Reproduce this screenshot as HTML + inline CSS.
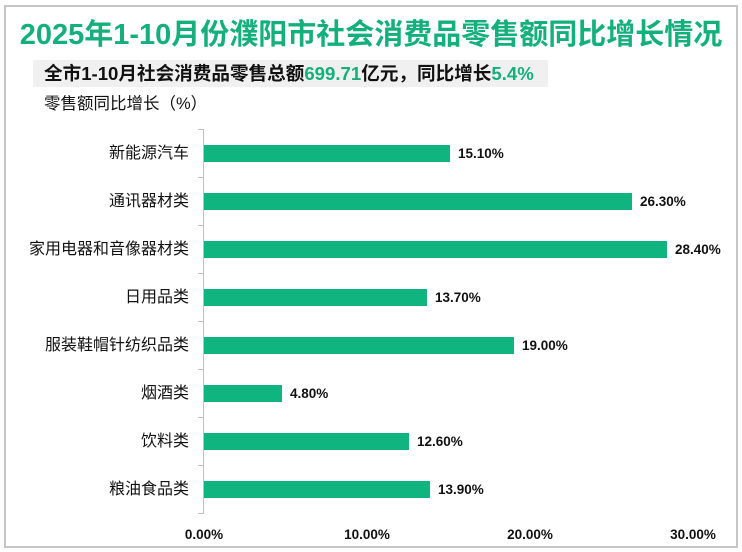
<!DOCTYPE html>
<html>
<head>
<meta charset="utf-8">
<style>
  html,body{margin:0;padding:0;background:#fff;}
  body{width:742px;height:552px;position:relative;overflow:hidden;
       font-family:"Liberation Sans","Noto Sans CJK SC",sans-serif;}
  .frame{position:absolute;left:4px;top:5px;width:734px;height:543px;box-sizing:border-box;
         border:2px solid #c6c6c6;}
  .abs{position:absolute;white-space:nowrap;}
  .title{left:0;width:742px;text-align:center;top:15px;height:40px;line-height:40px;
         font-size:29px;font-weight:bold;color:#14b07c;}
  .subbox{left:33px;top:60px;width:515px;height:27px;background:#f0f0f0;}
  .sub{left:44px;top:60px;height:27px;line-height:27px;font-size:18.6px;font-weight:bold;color:#111;}
  .g{color:#14b07c;}
  .unit{left:44px;top:93px;height:22px;line-height:22px;font-size:16.5px;color:#111;}
  .cat{right:553px;height:24px;line-height:24px;font-size:16px;color:#111;text-align:right;}
  .bar{left:204px;height:17px;background:#10b47f;}
  .val{height:20px;line-height:20px;font-size:13.5px;font-weight:bold;color:#111;}
  .tick{top:525px;height:20px;line-height:20px;width:80px;text-align:center;font-size:13.5px;font-weight:bold;color:#111;}
  .axis{left:203px;top:129px;width:1px;height:385px;background:#bfbfbf;}
  .tm{left:198px;width:6px;height:1px;background:#bfbfbf;}
</style>
</head>
<body>
<div class="frame"></div>

<div class="abs title">2025年1-10月份濮阳市社会消费品零售额同比增长情况</div>

<div class="abs subbox"></div>
<div class="abs sub">全市1-10月社会消费品零售总额<span class="g">699.71</span>亿元，同比增长<span class="g">5.4%</span></div>

<div class="abs unit">零售额同比增长（%）</div>

<!-- axis -->
<div class="abs axis"></div>
<div class="abs tm" style="top:129px"></div>
<div class="abs tm" style="top:177px"></div>
<div class="abs tm" style="top:225px"></div>
<div class="abs tm" style="top:273px"></div>
<div class="abs tm" style="top:321px"></div>
<div class="abs tm" style="top:369px"></div>
<div class="abs tm" style="top:417px"></div>
<div class="abs tm" style="top:465px"></div>
<div class="abs tm" style="top:513px"></div>

<!-- categories -->
<div class="abs cat" style="top:141.5px">新能源汽车</div>
<div class="abs cat" style="top:189.5px">通讯器材类</div>
<div class="abs cat" style="top:237.5px">家用电器和音像器材类</div>
<div class="abs cat" style="top:285.5px">日用品类</div>
<div class="abs cat" style="top:333.5px">服装鞋帽针纺织品类</div>
<div class="abs cat" style="top:381.5px">烟酒类</div>
<div class="abs cat" style="top:429.5px">饮料类</div>
<div class="abs cat" style="top:477.5px">粮油食品类</div>

<!-- bars -->
<div class="abs bar" style="top:145px;width:246px"></div>
<div class="abs bar" style="top:193px;width:428px"></div>
<div class="abs bar" style="top:241px;width:463px"></div>
<div class="abs bar" style="top:289px;width:223px"></div>
<div class="abs bar" style="top:337px;width:310px"></div>
<div class="abs bar" style="top:385px;width:78px"></div>
<div class="abs bar" style="top:433px;width:205px"></div>
<div class="abs bar" style="top:481px;width:226px"></div>

<!-- values -->
<div class="abs val" style="left:458px;top:143.5px">15.10%</div>
<div class="abs val" style="left:640px;top:191.5px">26.30%</div>
<div class="abs val" style="left:675px;top:239.5px">28.40%</div>
<div class="abs val" style="left:435px;top:287.5px">13.70%</div>
<div class="abs val" style="left:522px;top:335.5px">19.00%</div>
<div class="abs val" style="left:290px;top:383.5px">4.80%</div>
<div class="abs val" style="left:417px;top:431.5px">12.60%</div>
<div class="abs val" style="left:438px;top:479.5px">13.90%</div>

<!-- x ticks -->
<div class="abs tick" style="left:164px">0.00%</div>
<div class="abs tick" style="left:327px">10.00%</div>
<div class="abs tick" style="left:490px">20.00%</div>
<div class="abs tick" style="left:653px">30.00%</div>
</body>
</html>
